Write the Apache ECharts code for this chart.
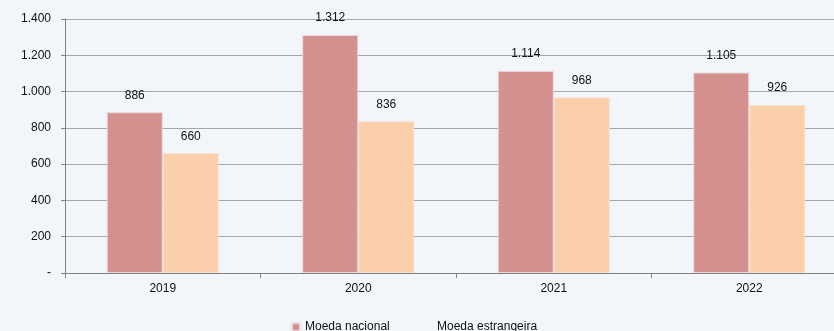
<!DOCTYPE html>
<html>
<head>
<meta charset="utf-8">
<script src="https://cdn.jsdelivr.net/npm/echarts@6/dist/echarts.min.js"></script>
<style>
  html, body { margin: 0; padding: 0; background: #F2F5FA; overflow: hidden; }
  /* the canvas is a little wider than the view so the last category runs off the edge */
  #chart { width: 847px; height: 331px; }
</style>
</head>
<body>
<div id="chart"></div>
<script>
// Years on the category axis
const years = ['2019', '2020', '2021', '2022'];
// Values per currency type
const moedaNacional = [886, 1312, 1114, 1105];
const moedaEstrangeira = [660, 836, 968, 926];
// Value axis ticks
const yTicks = [0, 200, 400, 600, 800, 1000, 1200, 1400];

const fmt = v => v === 0 ? '-' : v.toLocaleString('de-DE');
const font = 'Liberation Sans, Arial, sans-serif';

const chart = echarts.init(document.getElementById('chart'), null, { renderer: 'canvas' });

const labelOpt = {
  show: true,
  position: 'top',
  distance: 11,
  color: '#111',
  fontFamily: font,
  fontSize: 12,
  formatter: p => fmt(p.value)
};

chart.setOption({
  backgroundColor: '#F2F5FA',
  animation: false,
  grid: { left: 65, right: 0, top: 19, height: 254 },
  legend: [
    {
      data: [{ name: 'Moeda nacional' }],
      left: 286, top: 316,
      itemWidth: 8, itemHeight: 8, itemGap: 3,
      textStyle: { color: '#111', fontFamily: font, fontSize: 12 }
    },
    {
      data: [{ name: 'Moeda estrangeira', icon: 'none' }],
      left: 419, top: 316,
      itemWidth: 8, itemHeight: 8, itemGap: 4,
      textStyle: { color: '#111', fontFamily: font, fontSize: 12 }
    }
  ],
  xAxis: {
    type: 'category',
    data: years,
    axisLine: { lineStyle: { color: '#808080', width: 1 } },
    axisTick: { show: true, alignWithLabel: false, length: 5, lineStyle: { color: '#808080' } },
    axisLabel: { color: '#111', fontFamily: font, fontSize: 12, margin: 10 }
  },
  yAxis: {
    type: 'value',
    min: yTicks[0],
    max: yTicks[yTicks.length - 1],
    interval: yTicks[1] - yTicks[0],
    axisLine: { show: true, lineStyle: { color: '#808080', width: 1 } },
    axisTick: { show: true, length: 4, lineStyle: { color: '#808080' } },
    axisLabel: { color: '#111', fontFamily: font, fontSize: 12, margin: 14, formatter: fmt },
    splitLine: { lineStyle: { color: '#A6A6A6', width: 1 } }
  },
  series: [
    {
      name: 'Moeda nacional',
      type: 'bar',
      data: moedaNacional,
      barGap: '0%',
      barCategoryGap: '42.7%',
      itemStyle: { color: '#D48F8F', borderColor: '#EAD8DA', borderWidth: 1 },
      label: labelOpt
    },
    {
      name: 'Moeda estrangeira',
      type: 'bar',
      data: moedaEstrangeira,
      itemStyle: { color: '#FBCFAA', borderColor: '#F7E2D2', borderWidth: 1 },
      label: labelOpt
    }
  ]
});
</script>
</body>
</html>
